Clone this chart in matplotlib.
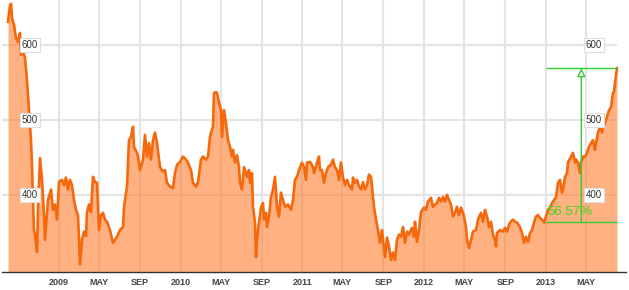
import pandas as pd
import matplotlib
matplotlib.use("Agg")
import matplotlib.pyplot as plt
import matplotlib.dates as mdates
import matplotlib.transforms as mtransforms

plt.rcParams['font.family'] = ['Liberation Sans', 'DejaVu Sans']

# price series: days after 2008-08-01, closing value
start = pd.Timestamp('2008-08-01')
days = [0, 6, 9, 12, 18, 24, 30, 36, 39, 45, 51, 57, 63, 69, 72, 75, 78, 81, 87, 90,
        96, 102, 108, 111, 120, 129, 135, 141, 147, 153, 162, 168, 174, 180, 186, 192, 198, 204, 210, 213,
        216, 222, 228, 234, 237, 243, 249, 255, 261, 267, 273, 279, 285, 291, 297, 306, 315, 327, 336, 345,
        348, 357, 363, 369, 375, 378, 387, 390, 396, 405, 411, 417, 423, 429, 435, 441, 447, 456, 465, 471,
        477, 486, 495, 501, 507, 516, 525, 534, 540, 549, 555, 564, 570, 579, 585, 594, 600, 606, 609, 615,
        618, 624, 627, 633, 639, 642, 648, 654, 660, 666, 672, 675, 681, 687, 693, 696, 702, 708, 717, 723,
        726, 732, 735, 741, 744, 747, 753, 759, 765, 768, 774, 777, 783, 789, 795, 801, 807, 813, 819, 825,
        831, 840, 849, 855, 861, 867, 873, 882, 888, 894, 897, 906, 915, 918, 927, 933, 936, 942, 948, 954,
        960, 969, 975, 981, 987, 993, 999, 1005, 1011, 1017, 1023, 1032, 1035, 1041, 1047, 1053, 1059, 1065, 1071, 1077,
        1083, 1089, 1095, 1098, 1104, 1110, 1116, 1122, 1125, 1131, 1137, 1143, 1149, 1155, 1161, 1167, 1173, 1179, 1185, 1191,
        1197, 1203, 1212, 1218, 1221, 1227, 1233, 1239, 1248, 1254, 1260, 1269, 1275, 1281, 1287, 1293, 1299, 1305, 1311, 1317,
        1323, 1329, 1335, 1341, 1347, 1353, 1359, 1365, 1368, 1374, 1377, 1383, 1389, 1395, 1404, 1410, 1419, 1425, 1431, 1437,
        1443, 1449, 1455, 1461, 1464, 1467, 1476, 1485, 1491, 1497, 1503, 1506, 1515, 1521, 1527, 1536, 1542, 1548, 1554, 1560,
        1566, 1572, 1578, 1584, 1590, 1596, 1602, 1608, 1614, 1620, 1626, 1632, 1638, 1644, 1650, 1656, 1662, 1665, 1671, 1677,
        1680, 1689, 1695, 1701, 1704, 1710, 1716, 1719, 1725, 1731, 1737, 1743, 1749, 1755, 1761, 1764, 1770, 1776, 1782, 1785,
        1791, 1797, 1803, 1809, 1815, 1818, 1821, 1827]
prices = [631, 653, 655, 636, 627, 609, 604, 616, 587, 591, 583, 553, 513, 473, 440, 393, 353, 347, 324, 380,
          449, 420, 373, 340, 393, 407, 380, 387, 367, 417, 420, 413, 423, 407, 420, 413, 393, 380, 373, 340,
          307, 340, 351, 345, 377, 387, 377, 424, 417, 416, 353, 373, 376, 367, 364, 353, 336, 344, 353, 357,
          384, 411, 473, 477, 491, 464, 456, 451, 433, 447, 480, 451, 469, 447, 473, 483, 469, 437, 431, 433,
          416, 411, 409, 429, 440, 444, 451, 447, 443, 433, 416, 411, 417, 447, 451, 447, 451, 477, 483, 491,
          536, 537, 536, 523, 513, 477, 513, 496, 473, 464, 451, 460, 443, 453, 437, 416, 407, 437, 424, 433,
          416, 429, 384, 363, 317, 340, 363, 383, 389, 367, 376, 357, 371, 397, 407, 424, 384, 371, 403, 393,
          384, 387, 380, 393, 420, 424, 433, 443, 437, 420, 443, 444, 437, 429, 443, 451, 433, 433, 416, 429,
          437, 440, 447, 437, 433, 420, 443, 423, 413, 420, 413, 407, 423, 416, 420, 411, 407, 417, 407, 413,
          427, 424, 397, 384, 367, 353, 336, 353, 340, 317, 343, 331, 313, 323, 313, 340, 347, 344, 357, 336,
          351, 347, 356, 344, 364, 337, 353, 377, 383, 380, 391, 396, 384, 387, 389, 396, 391, 397, 391, 400,
          393, 387, 371, 376, 384, 373, 383, 376, 371, 357, 340, 329, 340, 351, 353, 367, 376, 364, 380, 371,
          357, 364, 347, 340, 331, 349, 353, 351, 356, 351, 360, 363, 367, 364, 363, 357, 349, 336, 344, 337,
          349, 353, 363, 371, 373, 369, 367, 363, 371, 380, 383, 389, 393, 397, 416, 420, 403, 407, 424, 429,
          443, 451, 456, 443, 447, 443, 429, 443, 451, 451, 456, 464, 469, 473, 460, 469, 483, 491, 483, 491,
          496, 504, 513, 517, 536, 537, 549, 569]

y_labels = [400, 500, 600]
tick_dates = ['2009-01-01', '2009-05-01', '2009-09-01', '2010-01-01', '2010-05-01', '2010-09-01',
              '2011-01-01', '2011-05-01', '2011-09-01', '2012-01-01', '2012-05-01', '2012-09-01',
              '2013-01-01', '2013-05-01']
tick_text = ['2009', 'MAY', 'SEP', '2010', 'MAY', 'SEP', '2011', 'MAY', 'SEP',
             '2012', 'MAY', 'SEP', '2013', 'MAY']

# change annotation (base level since start of 2013)
change_start = '2013-01-01'
change_base = 363.5
change_text = '56.57%'

dates = start + pd.to_timedelta(days, unit='D')
ticks = pd.to_datetime(tick_dates)

fig = plt.figure(figsize=(6.29, 2.9), dpi=100)
ax = fig.add_axes([2 / 629, 18 / 290, 624 / 629, 272 / 290])

ax.set_xlim(start - pd.Timedelta(days=18), start + pd.Timedelta(days=1854))
ax.set_ylim(297, 660)

# grid
for t in ticks:
    ax.axvline(t, color='#e4e4e4', lw=1.5, zorder=0)
ax.hlines(y_labels, ax.get_xlim()[0], mdates.date2num(dates[-1]), color='#e4e4e4', lw=1.5, zorder=0)

ax.fill_between(dates, prices, 297, color='#ff7a28', alpha=0.58, lw=0, zorder=1)
ax.plot(dates, prices, color='#f5680c', lw=1.9, zorder=2)

# y labels in white boxes, on both sides
trans = mtransforms.blended_transform_factory(ax.transAxes, ax.transData)
for v in y_labels:
    for xa in (28 / 624, 592 / 624):
        ax.text(xa, v, str(v), transform=trans, ha='center', va='center', fontsize=7,
                color='#333333', zorder=4,
                bbox=dict(boxstyle='square,pad=0.22', fc='white', ec='#dddddd', lw=0.8))

# change annotation
c0 = pd.Timestamp(change_start)
c1 = dates[-1]
top = prices[-1]
green = '#33cc33'
ax.hlines([change_base, top], c0, c1, color=green, lw=1, zorder=3)
arrow_x = pd.Timestamp('2013-04-17')
ax.annotate('', xy=(arrow_x, top), xytext=(arrow_x, change_base),
            arrowprops=dict(arrowstyle='-|>,head_length=0.5,head_width=0.25', color=green,
                            fc='white', lw=1, shrinkA=0, shrinkB=0), zorder=3)
ax.text(c0 + pd.Timedelta(days=3), 377, change_text, color='#3dd61f', fontsize=9.5,
        ha='left', va='center', zorder=4)

ax.set_xticks(ticks)
ax.set_xticklabels(tick_text)
ax.set_yticks([])
ax.tick_params(axis='x', length=0, pad=4, labelsize=6.5, labelcolor='#444444')
for lab in ax.get_xticklabels():
    lab.set_fontweight('bold')
for s in ['top', 'left', 'right']:
    ax.spines[s].set_visible(False)
ax.spines['bottom'].set_color('#333333')
ax.spines['bottom'].set_linewidth(1)

fig.savefig('out.png', dpi=100)
